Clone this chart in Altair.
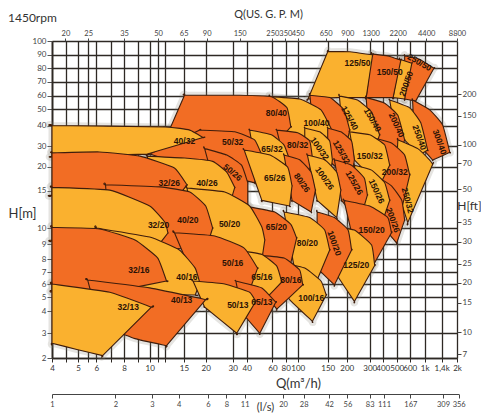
import altair as alt
import pandas as pd

# ---------------- axis tick values ----------------
Q_TICKS = [4, 5, 6, 8, 10, 15, 20, 30, 40, 60, 80, 100, 150, 200, 300, 400, 500, 600, 1000, 1400, 2000]
Q_LABELS = ["4", "5", "6", "8", "10", "15", "20", "30", "40", "60", "80", "100", "150", "200",
            "300", "400", "500", "600", "1k", "1,4k", "2k"]
Q_MINOR = [4.5, 5.5, 7, 9, 11, 12]
H_TICKS = [2, 3, 4, 5, 6, 7, 8, 9, 10, 15, 20, 30, 40, 50, 60, 70, 80, 90, 100]
FT_TICKS = [7, 10, 15, 20, 25, 30, 35, 50, 70, 100, 150, 200]
GPM_TICKS = [20, 25, 35, 50, 65, 90, 150, 250, 350, 450, 650, 900, 1300, 2200, 4400, 8800]
LS_TICKS = [1, 2, 3, 4, 6, 8, 11, 20, 28, 42, 56, 83, 111, 167, 309, 356]

# ---------------- scale layout (pixel range of each tick, plot-relative) ----------------
Q_RANGE = [0, 26, 44.4, 72, 97.7, 132, 153.7, 180.7, 194.7, 220.4, 233.7, 245.7, 275.7,
           294.7, 317.7, 330.7, 344.7, 357.7, 372.7, 389.7, 405]
H_RANGE = [317, 292.3, 270, 256, 243, 231.3, 218, 203.3, 187, 149.7, 125.7, 105, 84.5,
           68.3, 54.7, 40.7, 27.3, 13.5, 0]
GPM_RANGE = [13.4, 36.2, 72, 106, 131.7, 154.7, 187.7, 220.4, 233.4, 245.7, 273.7, 295.4,
             318.7, 345.7, 374.2, 405]
LS_RANGE = [0, 63.4, 100, 126.7, 156, 174.4, 192.7, 231, 251.7, 277, 295.4, 317.7, 332,
            358.4, 391, 406.7]

# ---------------- pump regions (draw order) ----------------
NAMES = ["250/50", "200/50", "150/50", "125/50",
         "300/40", "250/40", "200/40", "150/40", "125/40", "100/40", "80/40",
         "250/32", "200/32", "150/32", "125/32", "100/32", "80/32", "65/32", "50/32", "40/32",
         "200/26", "150/26", "125/26", "100/26", "80/26", "65/26", "50/26", "40/26", "32/26",
         "150/20", "125/20", "100/20", "80/20", "65/20", "50/20", "40/20", "32/20",
         "100/16", "80/16", "65/16", "50/16", "40/16", "32/16",
         "65/13", "50/13", "40/13", "32/13"]
TONES = ["o", "y", "o", "y",
         "o", "y", "o", "y", "o", "y", "o",
         "y", "o", "y", "o", "y", "o", "y", "o", "y",
         "o", "y", "o", "y", "o", "y", "o", "y", "o",
         "o", "y", "o", "y", "o", "y", "o", "y",
         "y", "o", "y", "o", "y", "o",
         "o", "y", "o", "y"]
TOP_Q = [[559, 840, 1200], [521, 645], [313, 434, 530], [150, 211, 320],
         [661, 1104, 1430, 1693], [447, 600, 875, 1061], [282, 413, 508, 559], [179, 242, 313, 373],
         [118, 155, 192, 211], [57.8, 102.7, 137, 160], [15.1, 34.6, 59, 82, 88],
         [508, 789, 1104, 1172], [313, 460, 559, 600], [211, 300, 413, 447], [150, 183, 218, 229],
         [110, 134.6, 154.6, 161], [66, 100, 117.6, 122], [41.9, 59, 77.2, 86], [18.5, 31.3, 45.3, 50.8],
         [4, 12, 16.2, 19.3],
         [335, 460, 537, 559], [229, 313, 413, 447], [166, 218, 273, 288], [114, 144, 172, 183],
         [77.2, 102.7, 120, 127], [38, 57.8, 83, 90], [19.7, 27.5, 36, 40.7], [9.8, 15.1, 22.2, 27.5, 31.3],
         [4, 6.2, 9.2, 13.4, 15.6],
         [192, 300, 434, 460], [166, 229, 313, 335], [130, 166, 205, 218], [77.2, 117.6, 144, 154.6],
         [38, 63.1, 88, 98], [15.6, 26.6, 41.9, 50.8, 53.2], [6.6, 11.3, 16.2, 20, 22.2], [4, 6.9, 10, 12, 12.4],
         [69.6, 110, 137, 147], [47.5, 77.2, 102.7, 107], [32, 50.8, 66, 73.5], [13.4, 22.9, 38, 47.5],
         [6, 10, 14.2, 17.4, 18.5], [4, 6.2, 8.8, 11, 12.2],
         [32, 50.8, 64.5], [16.9, 26.6, 41.9, 46.1], [5.5, 10, 20], [4, 6.9, 10.2]]
TOP_H = [[88.9, 86.5, 80], [86.5, 83.5], [90.4, 88.9, 85.8], [92, 92, 89.7],
         [56.6, 49.6, 40.3, 26.5], [56.6, 51, 41.5, 27.7], [58.5, 54.3, 46, 32.7], [59.8, 56.6, 48.1, 35.1],
         [60.3, 58.5, 49.6, 37.5], [59.2, 57.4, 49.6, 37.5], [60.3, 60.3, 59.2, 51, 39.2],
         [32.7, 28.5, 22.8, 21], [33.8, 31.3, 25.1, 18.1], [36.6, 35.1, 30.4, 20.6], [38.6, 36.6, 32.2, 22.9],
         [38.6, 36.6, 32.2, 22.9], [37.5, 36.1, 32.2, 23.7], [37.5, 35.1, 30.4, 22.9], [37.5, 36.6, 32.7, 25.1],
         [40, 39.2, 37.5, 33.8],
         [18.1, 15.9, 13.5, 10.9], [20.6, 19.2, 16.5, 13.5], [22.9, 20.6, 17.4, 14.3], [25.1, 22.9, 18.7, 15.1],
         [25.1, 22.9, 18.7, 15.1], [27.7, 25.1, 19.9, 15.9], [28.6, 25.1, 20.6, 16.5], [24.6, 23.7, 22.2, 18.7, 15.6],
         [26.2, 26.7, 24.6, 19.7, 16.1],
         [13.5, 12.7, 11.2, 9.7], [10.1, 9.87, 8.95, 7.5], [11.9, 11.2, 9.87, 8.6], [11.9, 11.2, 9.87, 8.6],
         [12.7, 11.9, 10.4, 9.37], [15.5, 14.8, 12.7, 10.1, 9.25], [16.1, 15.7, 14.8, 12.7, 10], [15.6, 15.1, 12.7, 10.6, 9.68],
         [7.77, 7.3, 6.24, 5.14], [8.25, 8.06, 7.16, 5.92], [8.6, 8.3, 7.45, 6.16], [9.7, 9.5, 8.73, 7.3],
         [10, 9.43, 8.6, 7.3, 6.08], [10.06, 9.94, 9.25, 8.06, 6.24],
         [6.24, 5.68, 4.6], [6.24, 6, 5.35, 4.66], [6.33, 5.68, 4.8], [6, 5.35, 4.26]]
BOT_Q = [[735, 559], [559, 472], [472, 282], [282, 172, 115],
         [1172, 708], [840, 485], [508, 300], [313, 192], [192, 126], [144, 69.6], [57.8, 12],
         [584, 493], [521, 373], [373, 229], [218, 150], [154.6, 110], [114, 77.2], [77.2, 45.3],
         [45.3, 18.5, 10], [9.8, 4],
         [500, 373], [373, 250], [250, 185], [172, 130], [120, 90], [86, 50.8], [40.7, 24.3], [29.2, 10], [14.2, 4],
         [313, 229], [229, 172], [166, 130], [130, 94], [86, 53.2], [50.8, 18.5], [20, 6.9], [11.3, 4],
         [122, 86, 72], [66, 50.8], [53.2, 34.6], [41.9, 18.5], [17.4, 6.2], [7.7, 4],
         [49.2, 38, 34.6], [32.6, 19.7], [12.2, 8.8, 6.2], [6.4, 4.95, 4]]
BOT_H = [[55.8, 57.4], [57.4, 58.5], [58.5, 58.5], [58.5, 58.5, 57.4],
         [22.8, 32.7], [25.1, 37.5], [22.9, 27.7], [22.9, 27.7], [25.1, 27.7], [25.1, 27.7], [27.7, 32.7],
         [10.6, 15.9], [11.2, 15.9], [15.9, 22.9], [16.9, 22.9], [16.9, 22.9], [17.4, 22.9], [17.4, 22.9],
         [16.5, 19.2, 25.6], [25.6, 24.5],
         [9.07, 10.6], [9.87, 12.3], [10.6, 13.5], [11.2, 13.5], [11.9, 13.5], [12.7, 13.5], [12.7, 13.5], [13.5, 14.3], [14.3, 14.3],
         [7.3, 8.95], [4.66, 6.76], [5.92, 7.3], [6.33, 7.3], [7.3, 7.93], [7.93, 8.25], [8.6, 8.95], [9.07, 9.25],
         [3.5, 4.8, 5.92], [4.12, 5.5], [4.8, 5.3], [5.5, 5.3], [5.14, 5.3], [5.5, 5.5],
         [3, 3.8, 4.8], [3, 4.26], [2.45, 2.75, 3.35], [2.08, 2.3, 2.55]]

LABEL_Q = [840, 570, 447, 242,
           1346, 840, 500, 320, 211, 129, 65.5,
           584, 485, 300, 185, 134.6, 100, 59.6, 30, 15.1,
           472, 350, 229, 144, 106, 63.1, 30, 20.4, 12.6,
           313, 237, 166, 114, 65.5, 28.6, 15.8, 11.1,
           120, 88, 50.8, 30, 15.6, 9.1,
           50.8, 33.3, 14.6, 8.3]
LABEL_H = [84.2, 68.5, 77.3, 83.5,
           31.8, 33.8, 40.3, 43.2, 44.3, 41.5, 47.8,
           13.5, 18.7, 24.6, 26.6, 28.5, 30.4, 28.5, 31.8, 32.2,
           10.9, 14.9, 16.5, 17.4, 16.5, 17.4, 18.7, 16.5, 16.5,
           9.87, 7.5, 9.07, 9.07, 10.1, 10.5, 10.95, 10.3,
           4.93, 6.33, 6.6, 7.7, 6.6, 7.16,
           4.6, 4.4, 4.8, 4.26]

# label rotation (style)
LABEL_ANGLE = {"250/50": 30, "200/50": -70, "300/40": 70, "250/40": 70, "200/40": 65,
               "150/40": 60, "125/40": 60, "250/32": 75, "125/32": 60, "100/32": 55,
               "200/26": 70, "150/26": 65, "125/26": 60, "100/26": 55, "80/26": 55,
               "50/26": 40, "100/20": 70}

COLORS = {"y": "#fab12f", "o": "#f26d24"}
EDGE = "#3f1d0c"
FONT = "Lato"

# ---------------- scales ----------------
q_scale = alt.Scale(type="log", domain=Q_TICKS, range=Q_RANGE, nice=False, zero=False)
h_scale = alt.Scale(type="log", domain=H_TICKS, range=H_RANGE, nice=False, zero=False)
gpm_scale = alt.Scale(type="log", domain=GPM_TICKS, range=GPM_RANGE, nice=False, zero=False)
ls_scale = alt.Scale(type="log", domain=LS_TICKS, range=LS_RANGE, nice=False, zero=False)

cases = " ".join(f"datum.value == {v} ? '{lab}' :" for v, lab in zip(Q_TICKS, Q_LABELS))
q_label_expr = cases + " ''"

x_axis = alt.Axis(values=sorted(Q_TICKS + Q_MINOR), labelExpr=q_label_expr, grid=True,
                  gridColor="#2e2924", gridWidth=1.3, gridOpacity=1,
                  domainColor="#2e2924", domainWidth=1.5, tickColor="#2e2924", tickSize=4,
                  labelFontSize=8, labelColor="#333333", labelPadding=2, labelFont=FONT,
                  labelFlush=False, labelOverlap=False,
                  title="Q(m³/h)", titleFont=FONT, titleFontSize=13, titleFontWeight="normal",
                  titleColor="#333333", titleX=246, titleY=25, titleAlign="center",
                  titleBaseline="middle")
y_axis = alt.Axis(values=H_TICKS, grid=True, gridColor="#2e2924", gridWidth=1.3, gridOpacity=1,
                  domainColor="#2e2924", domainWidth=1.8, tickColor="#555555", tickSize=5,
                  labelFontSize=8, labelColor="#444444", labelPadding=1, labelFont=FONT,
                  labelFlush=False, labelOverlap=False,
                  title="H[m]", titleAngle=0, titleX=-30, titleY=172, titleAlign="center",
                  titleBaseline="middle", titleFont=FONT, titleFontSize=13,
                  titleFontWeight="normal", titleColor="#333333")

X = alt.X("q:Q", scale=q_scale, axis=x_axis)
Y = alt.Y("h:Q", scale=h_scale, axis=y_axis)


def outline(i):
    tq, th, bq, bh = TOP_Q[i], TOP_H[i], BOT_Q[i], BOT_H[i]
    pts = []
    for j, (a, b) in enumerate(zip(tq, th)):
        pts.append((a, b))
        if j == 0 or j == len(tq) - 1:
            pts.append((a, b))
    for j, (a, b) in enumerate(zip(bq, bh)):
        pts.append((a, b))
        if j == 0 or j == len(bq) - 1:
            pts.append((a, b))
    return pd.DataFrame({"q": [p[0] for p in pts], "h": [p[1] for p in pts],
                         "o": list(range(len(pts)))})


frames = [outline(i) for i in range(len(NAMES))]

layers = []
# soft grey halo behind the whole family of regions
for df in frames:
    layers.append(
        alt.Chart(df).mark_line(interpolate="cardinal-closed", tension=0.6,
                                stroke="#8a8278", strokeOpacity=0.22, strokeWidth=7,
                                strokeJoin="round")
        .encode(x=X, y=Y, order=alt.Order("o:Q"))
    )
for i, df in enumerate(frames):
    layers.append(
        alt.Chart(df).mark_line(interpolate="cardinal-closed", tension=0.6,
                                fill=COLORS[TONES[i]], stroke=EDGE, strokeWidth=1.1,
                                strokeJoin="round")
        .encode(x=X, y=Y, order=alt.Order("o:Q"))
    )

labels_df = pd.DataFrame({"q": LABEL_Q, "h": LABEL_H, "name": NAMES,
                          "ang": [LABEL_ANGLE.get(n, 0) for n in NAMES]})
layers.append(
    alt.Chart(labels_df).mark_text(fontSize=8.5, fontWeight="bold", color="#2a1206",
                                   font="Liberation Sans")
    .encode(x=X, y=Y, text="name:N", angle=alt.Angle("ang:Q", scale=None))
)
layers.append(
    alt.Chart(pd.DataFrame({"t": ["1450rpm"]})).mark_text(
        align="left", baseline="middle", fontSize=12, color="#333333", font=FONT)
    .encode(x=alt.value(-44), y=alt.value(-23), text="t:N")
)
main = alt.layer(*layers)

gpm_layer = alt.Chart(pd.DataFrame({"gpm": GPM_TICKS})).mark_point(opacity=0).encode(
    x=alt.X("gpm:Q", scale=gpm_scale,
            axis=alt.Axis(orient="top", values=GPM_TICKS, format="d", grid=False, domain=False,
                          tickColor="#444444", tickSize=3, labelFontSize=7.5,
                          labelColor="#444444", labelPadding=1, labelFont=FONT,
                          labelFlush=False, labelOverlap=False,
                          title="Q(US. G. P. M)", titleFont=FONT, titleFontSize=11,
                          titleFontWeight="normal", titleColor="#333333", titleX=216,
                          titleY=-27, titleAlign="center", titleBaseline="middle"))
)
ls_layer = alt.Chart(pd.DataFrame({"ls": LS_TICKS})).mark_point(opacity=0).encode(
    x=alt.X("ls:Q", scale=ls_scale,
            axis=alt.Axis(orient="bottom", offset=36, values=LS_TICKS, format="d", grid=False,
                          domainColor="#444444", domainWidth=1, tickColor="#444444",
                          tickSize=4, labelFontSize=7.5, labelColor="#444444",
                          labelPadding=2, labelFont=FONT, labelFlush=False,
                          labelOverlap=False, title="(l/s)", titleFont=FONT,
                          titleFontSize=11, titleFontWeight="normal", titleColor="#333333",
                          titleX=213, titleY=13, titleAlign="center",
                          titleBaseline="middle"))
)
ft_in_m = [v * 0.3048 for v in FT_TICKS]
ft_layer = alt.Chart(pd.DataFrame({"m": ft_in_m})).mark_point(opacity=0).encode(
    y=alt.Y("m:Q", scale=h_scale,
            axis=alt.Axis(orient="right", values=ft_in_m, labelExpr="round(datum.value / 0.3048)",
                          grid=False, domain=False, tickColor="#444444", tickSize=4,
                          labelFontSize=8, labelColor="#444444", labelPadding=1,
                          labelFont=FONT, labelFlush=False, labelOverlap=False,
                          title="H[ft]", titleAngle=0, titleX=12, titleY=164,
                          titleAlign="center", titleBaseline="middle", titleFont=FONT,
                          titleFontSize=12, titleFontWeight="normal", titleColor="#333333"))
)

chart = alt.layer(main, gpm_layer, ls_layer, ft_layer).resolve_scale(
    x="independent", y="independent"
).resolve_axis(x="independent", y="independent").properties(
    width=405, height=317,
    autosize=alt.AutoSizeParams(type="none"),
    padding={"left": 44, "top": 33, "right": 24, "bottom": 58},
).configure_view(fill="#efe9dc", strokeWidth=0).configure(background="white")

chart.save("out.html", embed_options={"renderer": "svg", "actions": False})
